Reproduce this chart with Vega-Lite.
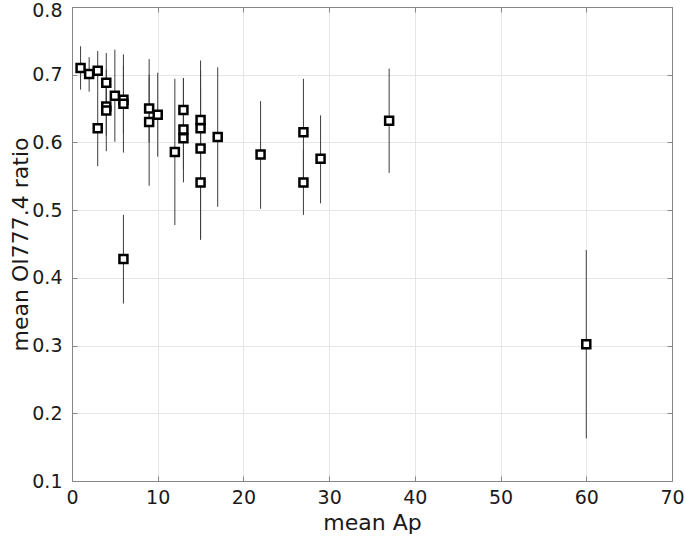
{
  "$schema": "https://vega.github.io/schema/vega-lite/v6.json",
  "width": 600,
  "height": 474,
  "autosize": {"type": "none"},
  "padding": {"left": 72, "top": 7, "right": 13, "bottom": 65},
  "background": "white",
  "config": {
    "view": {"stroke": "#868686", "strokeWidth": 1},
    "font": "DejaVu Sans",
    "axis": {
      "labelFont": "DejaVu Sans",
      "titleFont": "DejaVu Sans",
      "labelFontSize": 19,
      "titleFontSize": 22,
      "titleFontWeight": "normal",
      "labelColor": "#1a1a1a",
      "titleColor": "#1a1a1a",
      "domainColor": "#868686",
      "tickColor": "#868686",
      "gridColor": "#e6e6e6",
      "gridWidth": 1,
      "tickSize": -5,
      "labelFlush": false,
      "labelOverlap": false,
      "labelBound": false
    }
  },
  "data": {
    "values": [
      {"ap": 1, "ratio": 0.710, "lo": 0.678, "hi": 0.742},
      {"ap": 2, "ratio": 0.701, "lo": 0.675, "hi": 0.726},
      {"ap": 3, "ratio": 0.706, "lo": 0.677, "hi": 0.735},
      {"ap": 3, "ratio": 0.621, "lo": 0.565, "hi": 0.677},
      {"ap": 4, "ratio": 0.688, "lo": 0.644, "hi": 0.732},
      {"ap": 4, "ratio": 0.653, "lo": 0.610, "hi": 0.696},
      {"ap": 4, "ratio": 0.647, "lo": 0.587, "hi": 0.707},
      {"ap": 5, "ratio": 0.669, "lo": 0.601, "hi": 0.737},
      {"ap": 6, "ratio": 0.663, "lo": 0.613, "hi": 0.713},
      {"ap": 6, "ratio": 0.657, "lo": 0.585, "hi": 0.730},
      {"ap": 6, "ratio": 0.428, "lo": 0.362, "hi": 0.493},
      {"ap": 9, "ratio": 0.650, "lo": 0.600, "hi": 0.700},
      {"ap": 9, "ratio": 0.630, "lo": 0.536, "hi": 0.723},
      {"ap": 10, "ratio": 0.641, "lo": 0.579, "hi": 0.703},
      {"ap": 12, "ratio": 0.586, "lo": 0.478, "hi": 0.694},
      {"ap": 13, "ratio": 0.648, "lo": 0.600, "hi": 0.695},
      {"ap": 13, "ratio": 0.619, "lo": 0.541, "hi": 0.695},
      {"ap": 13, "ratio": 0.606, "lo": 0.560, "hi": 0.652},
      {"ap": 15, "ratio": 0.633, "lo": 0.560, "hi": 0.706},
      {"ap": 15, "ratio": 0.621, "lo": 0.560, "hi": 0.682},
      {"ap": 15, "ratio": 0.591, "lo": 0.458, "hi": 0.721},
      {"ap": 15, "ratio": 0.541, "lo": 0.456, "hi": 0.626},
      {"ap": 17, "ratio": 0.608, "lo": 0.505, "hi": 0.711},
      {"ap": 22, "ratio": 0.582, "lo": 0.502, "hi": 0.661},
      {"ap": 27, "ratio": 0.615, "lo": 0.536, "hi": 0.694},
      {"ap": 27, "ratio": 0.541, "lo": 0.493, "hi": 0.589},
      {"ap": 29, "ratio": 0.576, "lo": 0.510, "hi": 0.640},
      {"ap": 37, "ratio": 0.632, "lo": 0.555, "hi": 0.709},
      {"ap": 60, "ratio": 0.302, "lo": 0.163, "hi": 0.441}
    ]
  },
  "layer": [
    {
      "mark": {"type": "rule", "color": "#3d3d3d", "strokeWidth": 1},
      "encoding": {
        "x": {"field": "ap", "type": "quantitative",
              "scale": {"domain": [0, 70], "nice": false, "zero": false},
              "axis": {"orient": "bottom", "title": "mean Ap", "values": [0,10,20,30,40,50,60,70], "grid": true, "labelPadding": 12, "titlePadding": 5}},
        "y": {"field": "lo", "type": "quantitative",
              "scale": {"domain": [0.1, 0.8], "nice": false, "zero": false},
              "axis": {"orient": "left", "title": "mean OI777.4 ratio", "values": [0.1,0.2,0.3,0.4,0.5,0.6,0.7,0.8], "format": ".1f", "grid": true, "labelPadding": 15, "titlePadding": -1,
                       "labelOffset": {"condition": {"test": "datum.value >= 0.79", "value": 3}, "value": 0}}},
        "y2": {"field": "hi"}
      }
    },
    {
      "mark": {"type": "point", "shape": "square", "filled": false, "fill": "white", "stroke": "black", "strokeWidth": 2.5, "size": 64, "opacity": 1},
      "encoding": {
        "x": {"field": "ap", "type": "quantitative",
              "scale": {"domain": [0, 70], "nice": false, "zero": false},
              "axis": {"orient": "top", "title": null, "labels": false, "grid": false, "values": [0,10,20,30,40,50,60,70]}},
        "y": {"field": "ratio", "type": "quantitative",
              "scale": {"domain": [0.1, 0.8], "nice": false, "zero": false},
              "axis": {"orient": "right", "title": null, "labels": false, "grid": false, "values": [0.1,0.2,0.3,0.4,0.5,0.6,0.7,0.8]}}
      }
    }
  ],
  "resolve": {"axis": {"x": "independent", "y": "independent"}}
}
